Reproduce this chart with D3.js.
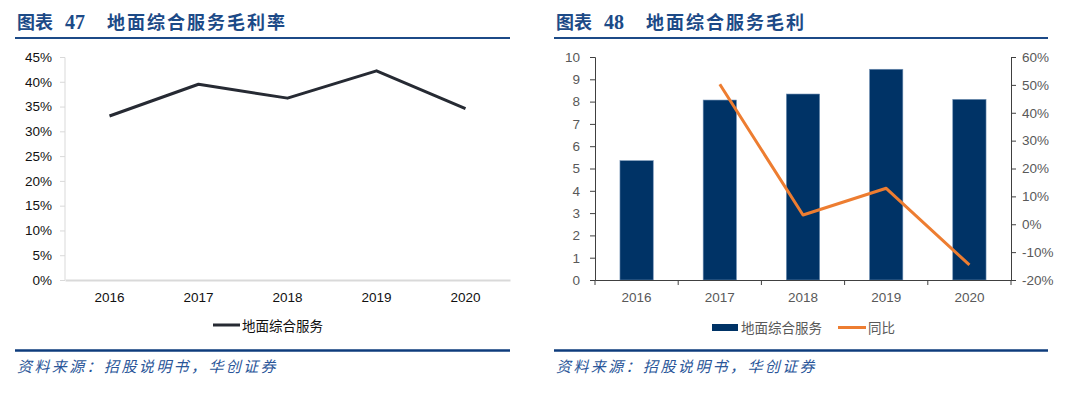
<!DOCTYPE html>
<html>
<head>
<meta charset="utf-8">
<script src="https://cdn.jsdelivr.net/npm/d3@7"></script>
<style>
  body { margin: 0; background: #fff; }
  svg { display: block; }
</style>
</head>
<body>
<svg id="chart" width="1080" height="395"></svg>
<script>
// data
let years = ['2016', '2017', '2018', '2019', '2020'];
let marginRate = [33.1, 39.5, 36.7, 42.2, 34.6];       // 地面综合服务毛利率 (%)
let grossProfit = [5.35, 8.07, 8.34, 9.45, 8.1];       // 地面综合服务毛利
let yoy = [null, 50.2, 3.3, 12.9, -14.6];              // 同比 (%)
let leftTicks = [0, 5, 10, 15, 20, 25, 30, 35, 40, 45];
let barTicks = [0, 1, 2, 3, 4, 5, 6, 7, 8, 9, 10];
let yoyTicks = [-20, -10, 0, 10, 20, 30, 40, 50, 60];

let svg = d3.select('#chart');
let numFont = '"Liberation Sans", Arial, sans-serif';
let cjkFont = '"Liberation Sans", "Noto Sans CJK SC", sans-serif';
let titleBlue = '#1c4a87';
let navy = '#003366';
let orange = '#ed7d31';

function header(x0, x1, num, name) {
    let g = svg.append('g');
    g.append('text')
        .attr('x', x0 + 2).attr('y', 29)
        .style('font-family', '"Noto Sans CJK SC", sans-serif')
        .style('font-weight', 'bold')
        .style('font-size', '18px')
        .style('fill', titleBlue)
        .text('图表');
    g.append('text')
        .attr('x', x0 + 50).attr('y', 29)
        .style('font-family', '"Liberation Serif", serif')
        .style('font-weight', 'bold')
        .style('font-size', '20px')
        .style('fill', titleBlue)
        .text(num);
    g.append('text')
        .attr('x', x0 + 92).attr('y', 29)
        .style('font-family', '"Noto Sans CJK SC", sans-serif')
        .style('font-weight', 'bold')
        .style('font-size', '18px')
        .style('letter-spacing', '2px')
        .style('fill', titleBlue)
        .text(name);
    g.append('line')
        .attr('x1', x0).attr('x2', x1)
        .attr('y1', 38).attr('y2', 38)
        .attr('stroke', titleBlue).attr('stroke-width', 2);
    g.append('line')
        .attr('x1', x0).attr('x2', x1)
        .attr('y1', 350.5).attr('y2', 350.5)
        .attr('stroke', '#0e3c7c').attr('stroke-width', 2.5);
    g.append('text')
        .attr('x', x0 + 2).attr('y', 372)
        .style('font-family', '"Noto Sans CJK SC", sans-serif')
        .style('font-style', 'italic')
        .style('font-size', '15px')
        .style('letter-spacing', '2.4px')
        .style('fill', '#2a5699')
        .text('资料来源：招股说明书，华创证券');
}

header(15, 510, '47', '地面综合服务毛利率');
header(554, 1048, '48', '地面综合服务毛利');

// ---- left chart: margin line ----
let x1 = d3.scaleBand().domain(years).range([65, 510]);
let y1 = d3.scaleLinear().domain([0, 45]).range([280, 57]);

let yAxis1 = svg.append('g')
    .attr('transform', 'translate(65,0)')
    .call(d3.axisLeft(y1).tickValues(leftTicks).tickSize(5).tickPadding(8).tickFormat(d => d + '%'));
yAxis1.select('.domain').attr('stroke', '#d9d9d9').attr('d', 'M-5,57.5H0V280');
yAxis1.selectAll('.tick line').attr('stroke', '#d9d9d9');
yAxis1.selectAll('text').style('font-family', numFont).style('font-size', '13.5px').style('fill', '#111');

let xAxis1 = svg.append('g')
    .attr('transform', 'translate(0,280)')
    .call(d3.axisBottom(x1).tickSize(0).tickPadding(12));
xAxis1.select('.domain').attr('stroke', '#d9d9d9').attr('stroke-width', 2);
xAxis1.selectAll('text').style('font-family', numFont).style('font-size', '13.5px').style('fill', '#111');

let line1 = d3.line()
    .x((d, i) => x1(years[i]) + x1.bandwidth() / 2)
    .y(d => y1(d));
svg.append('path')
    .attr('d', line1(marginRate))
    .attr('fill', 'none')
    .attr('stroke', '#262a33')
    .attr('stroke-width', 3)
    .attr('stroke-linejoin', 'round');

// legend
svg.append('line').attr('x1', 213).attr('x2', 240).attr('y1', 325).attr('y2', 325)
    .attr('stroke', '#262a33').attr('stroke-width', 3);
svg.append('text').attr('x', 242).attr('y', 331)
    .style('font-family', cjkFont).style('font-size', '13.5px').style('fill', '#111')
    .text('地面综合服务');

// ---- right chart: bars + yoy line ----
let x2 = d3.scaleBand().domain(years).range([595, 1011]).paddingInner(0.6).paddingOuter(0.3);
let xb = d3.scaleBand().domain(years).range([595, 1011]);
let y2 = d3.scaleLinear().domain([0, 10]).range([280, 57]);
let y3 = d3.scaleLinear().domain([-20, 60]).range([280, 57]);

svg.append('g').selectAll('rect')
    .data(grossProfit)
    .enter()
    .append('rect')
        .attr('x', (d, i) => x2(years[i]))
        .attr('width', x2.bandwidth())
        .attr('y', d => y2(d))
        .attr('height', d => y2(0) - y2(d))
        .attr('fill', navy)
        .attr('stroke', '#6f8fb3')
        .attr('stroke-width', 0.6);

let axisColor = '#404040';
let grey = '#595959';

let yAxis2 = svg.append('g')
    .attr('transform', 'translate(595,0)')
    .call(d3.axisLeft(y2).tickValues(barTicks).tickSize(5).tickPadding(10));
yAxis2.selectAll('.domain, .tick line').attr('stroke', axisColor);
yAxis2.selectAll('text').style('font-family', numFont).style('font-size', '13.5px').style('fill', grey);

let yAxis3 = svg.append('g')
    .attr('transform', 'translate(1011,0)')
    .call(d3.axisRight(y3).tickValues(yoyTicks).tickSize(5).tickPadding(6).tickFormat(d => d + '%'));
yAxis3.selectAll('.domain, .tick line').attr('stroke', axisColor);
yAxis3.selectAll('text').style('font-family', numFont).style('font-size', '13.5px').style('fill', grey);

let xAxis2 = svg.append('g')
    .attr('transform', 'translate(0,280)')
    .call(d3.axisBottom(xb).tickSize(0).tickPadding(12));
xAxis2.select('.domain').attr('stroke', axisColor);
xAxis2.selectAll('text').style('font-family', numFont).style('font-size', '13.5px').style('fill', grey);
// boundary ticks between categories
svg.append('g').selectAll('line')
    .data(years.concat(['end']))
    .enter()
    .append('line')
        .attr('x1', (d, i) => i < years.length ? xb(d) : xb.range()[1])
        .attr('x2', (d, i) => i < years.length ? xb(d) : xb.range()[1])
        .attr('y1', 280).attr('y2', 285)
        .attr('stroke', axisColor);

let line2 = d3.line()
    .defined(d => d !== null)
    .x((d, i) => xb(years[i]) + xb.bandwidth() / 2)
    .y(d => y3(d));
svg.append('path')
    .attr('d', line2(yoy))
    .attr('fill', 'none')
    .attr('stroke', orange)
    .attr('stroke-width', 3)
    .attr('stroke-linejoin', 'round');

// legend
svg.append('rect').attr('x', 712).attr('y', 324).attr('width', 26).attr('height', 7).attr('fill', navy);
svg.append('text').attr('x', 741).attr('y', 333)
    .style('font-family', cjkFont).style('font-size', '13.5px').style('fill', grey)
    .text('地面综合服务');
svg.append('line').attr('x1', 838).attr('x2', 866).attr('y1', 327.5).attr('y2', 327.5)
    .attr('stroke', orange).attr('stroke-width', 3);
svg.append('text').attr('x', 868).attr('y', 333)
    .style('font-family', cjkFont).style('font-size', '13.5px').style('fill', grey)
    .text('同比');
</script>
</body>
</html>
